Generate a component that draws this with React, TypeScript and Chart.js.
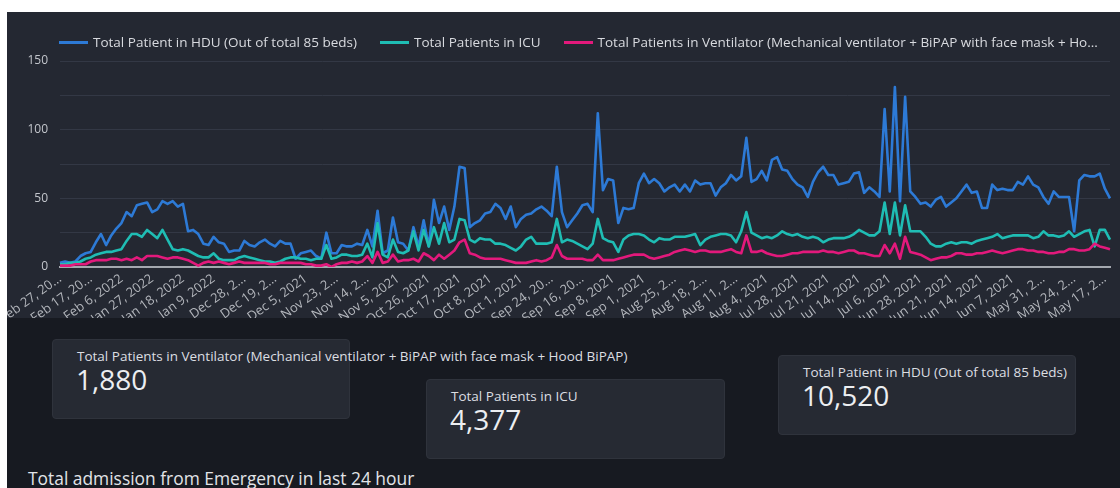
import React, { useEffect, useRef } from "react";
import { Chart, registerables } from "chart.js";

Chart.register(...registerables);

const tickLabels = [
  "Feb 27, 20...", "Feb 17, 20...", "Feb 6, 2022", "Jan 27, 2022", "Jan 18, 2022", "Jan 9, 2022",
  "Dec 28, 2...", "Dec 19, 2...", "Dec 5, 2021", "Nov 23, 2...", "Nov 14, 2...", "Nov 5, 2021",
  "Oct 26, 2021", "Oct 17, 2021", "Oct 8, 2021", "Oct 1, 2021", "Sep 24, 20...", "Sep 16, 20...",
  "Sep 8, 2021", "Sep 1, 2021", "Aug 25, 2...", "Aug 18, 2...", "Aug 11, 2...", "Aug 4, 2021",
  "Jul 28, 2021", "Jul 21, 2021", "Jul 14, 2021", "Jul 6, 2021", "Jun 28, 2021", "Jun 21, 2021",
  "Jun 14, 2021", "Jun 7, 2021", "May 31, 2...", "May 24, 2...", "May 17, 2...",
];
const pointsPerTick = 6;

const hduValues = [
  3, 4, 3, 4, 8, 10, 11, 18, 24, 16,
  23, 28, 32, 40, 37, 45, 46, 47, 40, 42,
  48, 46, 48, 44, 46, 26, 27, 24, 17, 16,
  22, 18, 17, 11, 12, 12, 19, 16, 15, 18,
  20, 17, 15, 19, 17, 17, 6, 10, 11, 12,
  8, 6, 25, 10, 10, 16, 15, 15, 17, 16,
  27, 15, 41, 10, 12, 36, 18, 17, 12, 29,
  15, 34, 15, 49, 32, 44, 27, 44, 73, 72,
  29, 32, 34, 39, 40, 46, 43, 35, 44, 29,
  35, 38, 39, 42, 44, 41, 37, 73, 40, 29,
  34, 39, 45, 46, 40, 112, 56, 64, 63, 32,
  43, 42, 43, 61, 68, 61, 64, 61, 55, 58,
  60, 55, 60, 55, 63, 60, 61, 61, 52, 58,
  61, 67, 63, 66, 94, 62, 64, 70, 63, 78,
  80, 71, 70, 64, 60, 58, 51, 62, 69, 73,
  67, 67, 60, 61, 62, 68, 69, 54, 58, 55,
  51, 115, 55, 131, 48, 124, 55, 51, 46, 47,
  44, 49, 51, 44, 47, 50, 55, 60, 54, 55,
  43, 43, 60, 56, 57, 56, 56, 62, 60, 66,
  60, 58, 51, 46, 55, 51, 51, 51, 26, 63,
  67, 66, 66, 68, 57, 50,
];

const icuValues = [
  2, 2, 3, 3, 4, 6, 7, 9, 10, 11,
  11, 12, 13, 19, 24, 24, 22, 27, 24, 21,
  27, 20, 13, 12, 13, 12, 10, 8, 7, 7,
  10, 6, 5, 5, 5, 7, 8, 7, 6, 5,
  4, 4, 3, 4, 6, 7, 7, 6, 6, 5,
  6, 6, 16, 6, 7, 9, 9, 8, 8, 9,
  17, 7, 32, 9, 7, 20, 11, 10, 12, 26,
  12, 27, 15, 29, 17, 32, 18, 20, 35, 34,
  20, 18, 21, 20, 20, 17, 17, 16, 14, 12,
  15, 20, 22, 17, 17, 17, 18, 35, 18, 20,
  19, 17, 15, 13, 17, 35, 21, 19, 18, 11,
  20, 23, 24, 24, 23, 20, 18, 21, 20, 20,
  22, 22, 22, 23, 24, 16, 20, 22, 23, 24,
  24, 23, 18, 26, 40, 25, 23, 21, 22, 21,
  23, 26, 24, 23, 24, 22, 21, 22, 21, 18,
  20, 21, 21, 21, 22, 24, 27, 25, 23, 23,
  26, 47, 24, 47, 23, 45, 26, 26, 26, 22,
  17, 15, 15, 17, 18, 17, 18, 18, 17, 19,
  20, 21, 22, 24, 21, 22, 23, 23, 23, 23,
  21, 22, 26, 23, 23, 22, 23, 26, 22, 24,
  26, 27, 15, 27, 27, 20,
];

const ventValues = [
  1, 1, 1, 2, 2, 2, 4, 5, 5, 5,
  6, 6, 5, 6, 5, 7, 5, 8, 8, 8,
  7, 6, 7, 7, 6, 5, 3, 1, 3, 4,
  3, 4, 3, 2, 3, 4, 3, 3, 3, 3,
  3, 2, 2, 3, 3, 3, 3, 3, 2, 2,
  1, 1, 2, 0, 2, 3, 3, 4, 3, 4,
  8, 3, 11, 3, 4, 9, 4, 5, 5, 6,
  4, 10, 8, 5, 9, 6, 9, 12, 18, 20,
  10, 9, 7, 6, 6, 6, 6, 5, 4, 3,
  3, 3, 4, 5, 4, 5, 7, 16, 8, 6,
  6, 6, 6, 5, 5, 9, 5, 5, 5, 6,
  7, 8, 9, 9, 9, 7, 6, 7, 8, 9,
  11, 12, 13, 12, 11, 12, 12, 11, 11, 11,
  12, 13, 11, 10, 23, 11, 11, 12, 10, 9,
  8, 8, 9, 10, 10, 11, 11, 11, 11, 12,
  11, 11, 10, 11, 12, 12, 10, 10, 9, 8,
  8, 16, 10, 17, 6, 22, 11, 10, 9, 7,
  5, 6, 7, 7, 8, 10, 10, 9, 9, 10,
  10, 11, 12, 11, 10, 11, 12, 13, 13, 12,
  12, 11, 11, 10, 10, 11, 11, 13, 13, 12,
  12, 13, 17, 15, 14, 13,
];

const seriesNames = [
  "Total Patient in HDU (Out of total 85 beds)",
  "Total Patients in ICU",
  "Total Patients in Ventilator (Mechanical ventilator + BiPAP with face mask + Hood BiPAP)",
];
const legendTexts = [
  "Total Patient in HDU (Out of total 85 beds)",
  "Total Patients in ICU",
  "Total Patients in Ventilator (Mechanical ventilator + BiPAP with face mask + Ho...",
];
const seriesColors = ["#2d7ad6", "#1fbdb4", "#e3197c"];

const cardTitles = [
  "Total Patients in Ventilator (Mechanical ventilator + BiPAP with face mask + Hood BiPAP)",
  "Total Patients in ICU",
  "Total Patient in HDU (Out of total 85 beds)",
];
const cardValues = ["1,880", "4,377", "10,520"];
const footerText = "Total admission from Emergency in last 24 hour";

const categories = hduValues.map((_, i) =>
  i % pointsPerTick === 0 && tickLabels[i / pointsPerTick] ? tickLabels[i / pointsPerTick] : ""
);

const FONT = "'Open Sans', 'Noto Sans', sans-serif";

function LineChart() {
  const ref = useRef<HTMLCanvasElement | null>(null);
  useEffect(() => {
    let chart: Chart | null = null;
    let cancelled = false;
    const build = () => {
      if (cancelled || !ref.current) return;
      Chart.defaults.font.family = FONT;
      chart = new Chart(ref.current, {
        type: "line",
        data: {
          labels: categories,
          datasets: [
            { label: seriesNames[0], data: hduValues, borderColor: seriesColors[0], backgroundColor: seriesColors[0], order: 3 },
            { label: seriesNames[1], data: icuValues, borderColor: seriesColors[1], backgroundColor: seriesColors[1], order: 2 },
            { label: seriesNames[2], data: ventValues, borderColor: seriesColors[2], backgroundColor: seriesColors[2], order: 1 },
          ],
        },
        options: {
          animation: false,
          responsive: false,
          devicePixelRatio: 1,
          layout: { padding: { left: 0, right: 10, top: 49, bottom: 0 } },
          elements: {
            point: { radius: 0, hoverRadius: 0 },
            line: { borderWidth: 2.6, tension: 0, borderJoinStyle: "round", fill: false },
          },
          plugins: { legend: { display: false }, tooltip: { enabled: false } },
          scales: {
            x: {
              type: "category",
              grid: { display: false, drawTicks: false },
              border: { display: true, color: "#a4a8af", width: 2 },
              ticks: {
                autoSkip: false,
                maxRotation: 36,
                minRotation: 36,
                padding: 4,
                color: "#b3b6bc",
                font: { size: 13, family: FONT },
                callback: (_v: any, i: number) => categories[i],
              },
              afterFit: (s: any) => {
                s.height = 51;
                s.paddingLeft = 0;
                s.paddingRight = 0;
              },
            },
            y: {
              min: 0,
              max: 150,
              border: { display: false },
              grid: {
                drawTicks: false,
                lineWidth: 1,
                color: (ctx: any) => (ctx.tick && ctx.tick.value === 0 ? "rgba(0,0,0,0)" : "#333845"),
              },
              ticks: {
                stepSize: 25,
                padding: 12,
                color: "#c3c6cc",
                font: { size: 12, family: FONT },
                callback: (v: any) => (Number(v) % 50 === 0 ? String(v) : ""),
              },
              afterFit: (s: any) => {
                s.width = 53;
              },
            },
          },
        } as any,
      });
    };
    const fonts = (document as any).fonts;
    if (fonts && fonts.load) {
      Promise.all([fonts.load("12px 'Open Sans'"), fonts.load("28px 'Open Sans'")])
        .catch(() => null)
        .then(build);
    } else build();
    return () => {
      cancelled = true;
      if (chart) chart.destroy();
    };
  }, []);
  return (
    <canvas
      ref={ref}
      width={1113}
      height={306}
      style={{ position: "absolute", left: 7, top: 12, width: 1113, height: 306 }}
    />
  );
}

const cardBoxes = [
  { left: 52, top: 339, width: 298 },
  { left: 426, top: 379, width: 299 },
  { left: 778, top: 355, width: 298 },
];

export default function App() {
  return (
    <div
      style={{
        position: "absolute",
        left: 0,
        top: 0,
        width: 1120,
        height: 488,
        overflow: "hidden",
        background: "#ffffff",
        fontFamily: FONT,
      }}
    >
      <div style={{ position: "absolute", left: 7, top: 12, width: 1113, height: 476, background: "#171a21" }} />
      <div style={{ position: "absolute", left: 7, top: 12, width: 1113, height: 306, background: "#242832" }} />
      <LineChart />
      <div
        style={{
          position: "absolute",
          left: 59,
          top: 33,
          display: "flex",
          alignItems: "center",
          whiteSpace: "nowrap",
          fontSize: 13.5,
          lineHeight: "18px",
          color: "#d8dadf",
        }}
      >
        {legendTexts.map((t, i) => (
          <div key={i} style={{ display: "flex", alignItems: "center", marginRight: 23 }}>
            <span style={{ display: "inline-block", width: 29, height: 3, background: seriesColors[i], marginRight: 5 }} />
            <span>{t}</span>
          </div>
        ))}
      </div>
      {cardBoxes.map((b, i) => (
        <div
          key={i}
          style={{
            position: "absolute",
            left: b.left,
            top: b.top,
            width: b.width,
            height: 80,
            boxSizing: "border-box",
            background: "#262a33",
            border: "1px solid #2f333c",
            borderRadius: 4,
          }}
        >
          <div
            style={{
              position: "absolute",
              left: 24,
              top: 7,
              fontSize: 13.5,
              lineHeight: "18px",
              color: "#dcdee2",
              whiteSpace: "nowrap",
            }}
          >
            {cardTitles[i]}
          </div>
          <div
            style={{
              position: "absolute",
              left: 23,
              top: 25,
              fontSize: 28,
              lineHeight: "28px",
              color: "#eceef1",
              whiteSpace: "nowrap",
            }}
          >
            {cardValues[i]}
          </div>
        </div>
      ))}
      <div
        style={{
          position: "absolute",
          left: 28,
          top: 469,
          fontSize: 17.4,
          lineHeight: "19px",
          color: "#e2e4e8",
          whiteSpace: "nowrap",
        }}
      >
        {footerText}
      </div>
    </div>
  );
}
